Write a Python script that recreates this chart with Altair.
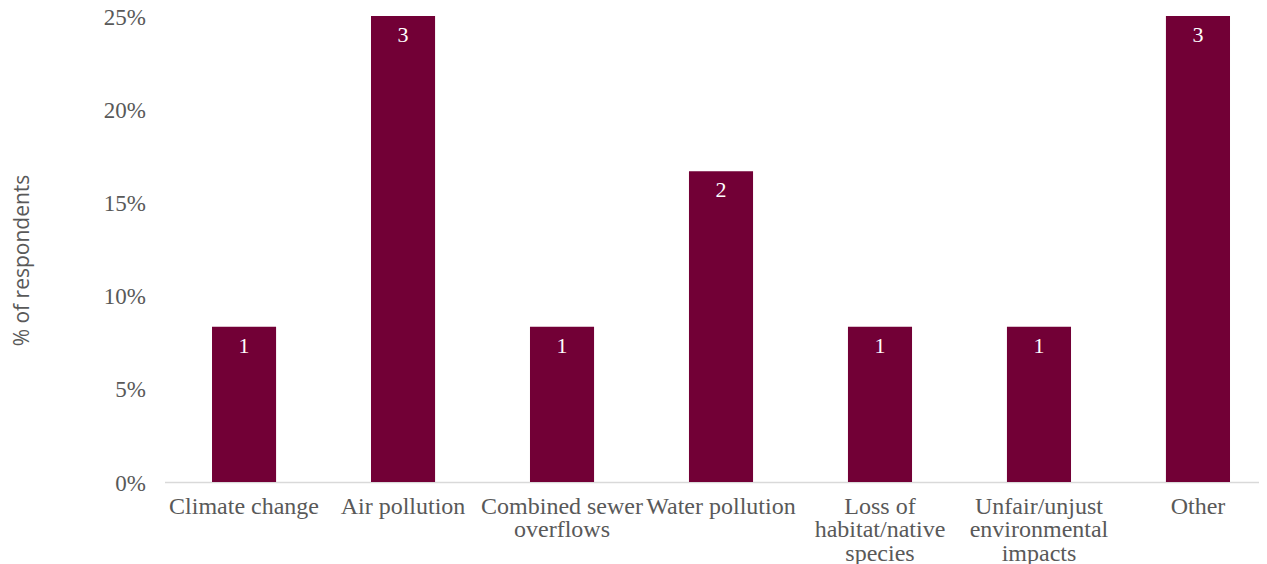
import altair as alt
import pandas as pd

categories = [
    "Climate change",
    "Air pollution",
    "Combined sewer|overflows",
    "Water pollution",
    "Loss of|habitat/native|species",
    "Unfair/unjust|environmental|impacts",
    "Other",
]
counts = [1, 3, 1, 2, 1, 1, 3]
share = [0.0833, 0.25, 0.0833, 0.1667, 0.0833, 0.0833, 0.25]
y_ticks = [0, 0.05, 0.10, 0.15, 0.20, 0.25]

df = pd.DataFrame({"category": categories, "count": counts, "share": share})

BAR = "#720036"
GREY = "#595959"
SERIF = "Liberation Serif"

x = alt.X(
    "category:N",
    sort=categories,
    title=None,
    scale=alt.Scale(paddingInner=0.597, paddingOuter=0.2406, align=0.621, round=False),
    axis=alt.Axis(
        labelExpr="split(datum.label, '|')",
        labelAngle=0,
        labelFont=SERIF,
        labelFontSize=24,
        labelColor=GREY,
        labelLineHeight=23.5,
        labelPadding=12,
        labelOverlap=False,
        labelLimit=0,
        labelBaseline="top",
        ticks=False,
        tickSize=0,
        domainColor="#d9d9d9",
        domainWidth=1.5,
    ),
)
y = alt.Y(
    "share:Q",
    scale=alt.Scale(domain=[0, 0.25], nice=False),
    axis=alt.Axis(
        values=y_ticks,
        format=".0%",
        title="% of respondents",
        titleFont="Open Sans",
        titleFontSize=21,
        titleFontWeight="normal",
        titleColor=GREY,
        titleAngle=-90,
        titleX=-142,
        titleY=244,
        titleAlign="center",
        titleBaseline="middle",
        labelFont=SERIF,
        labelFontSize=23,
        labelColor=GREY,
        labelPadding=19,
        labelOffset=1,
        ticks=False,
        tickSize=0,
        domain=False,
        grid=False,
    ),
)

bars = alt.Chart(df).mark_bar(color=BAR).encode(x=x, y=y)
text = alt.Chart(df).mark_text(
    color="white", font=SERIF, fontSize=22, baseline="top", dy=9
).encode(x=alt.X("category:N", sort=categories), y="share:Q", text="count:Q")

chart = (
    (bars + text)
    .properties(
        width=1094.5,
        height=466,
        autosize=alt.AutoSizeParams(type="none"),
        padding={"left": 156.5, "top": 8, "right": 0, "bottom": 84},
    )
    .configure_view(stroke=None)
)

chart.save("out.html", embed_options={"renderer": "svg", "actions": False})
